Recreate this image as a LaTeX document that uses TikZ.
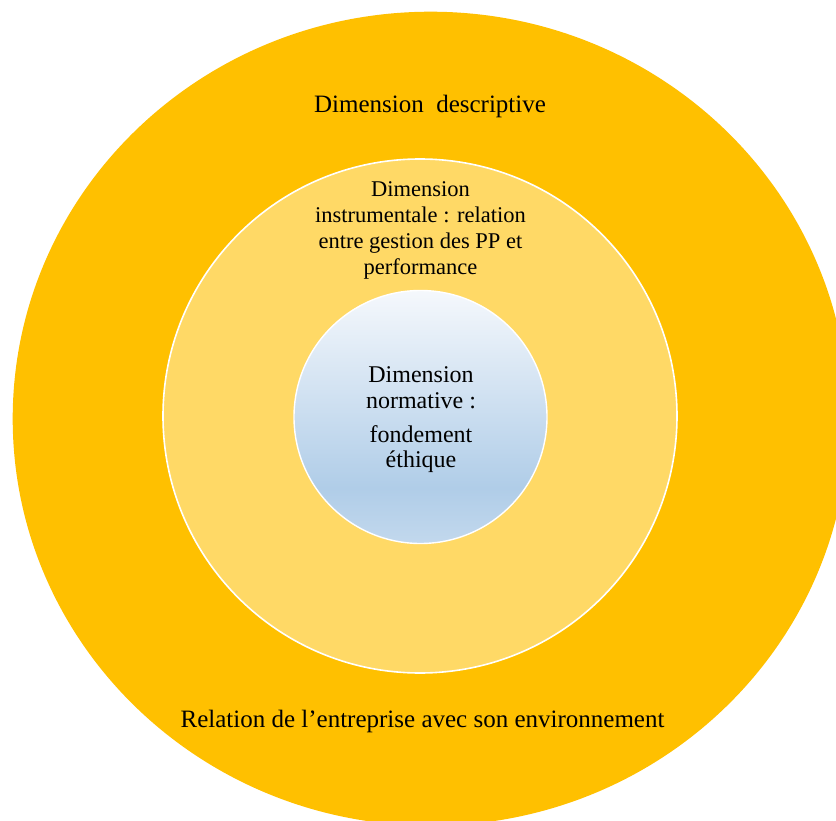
\documentclass[tikz,border=0pt]{standalone}
\usepackage{fontspec}
\setmainfont{Liberation Serif}
\definecolor{outergold}{HTML}{FFC000}
\definecolor{middlegold}{HTML}{FFD966}
\definecolor{innertop}{HTML}{F5F8FC}
\definecolor{innerdeep}{HTML}{B0CDE8}
\definecolor{innerbottom}{HTML}{C2D8ED}
\pgfdeclareverticalshading{innershade}{100bp}{%
  color(0bp)=(innerbottom); color(25bp)=(innerbottom);
  color(36bp)=(innerdeep); color(75bp)=(innertop); color(100bp)=(innertop)}
\tikzset{
  ringouter/.style={fill=outergold, draw=none},
  ringmiddle/.style={fill=middlegold, draw=white, line width=1.6pt},
  ringinner/.style={shading=innershade, draw=white, line width=1.4pt},
  bigtxt/.style={anchor=base, inner sep=0pt, font=\fontsize{25}{29}\selectfont},
  midtxt/.style={anchor=base, inner sep=0pt, font=\fontsize{22.5}{26}\selectfont},
  inntxt/.style={anchor=base, inner sep=0pt, font=\fontsize{24}{27}\selectfont},
}
\begin{document}
\begin{tikzpicture}[x=1pt, y=-1pt]
\useasboundingbox (0,0) rectangle (836,821);
\fill[white] (0,0) rectangle (836,821);
\clip (0,0) rectangle (836,821);
% rings
\path[ringouter] (430.7,418.7) ellipse [x radius=418, y radius=407];
\path[ringmiddle] (420,416) circle [radius=257];
\path[ringinner] (420.5,417) circle [radius=126.5];
% outer ring texts
\node[bigtxt] (desc) at (430,112.5) {Dimension~ descriptive};
\node[bigtxt] (envt) at (422.5,727.5) {Relation de l’entreprise avec son environnement};
% middle ring texts
\node[midtxt] (m1) at (420.5,197) {Dimension};
\node[midtxt] (m2) at (420.5,223) {instrumentale : relation};
\node[midtxt] (m3) at (420.5,249) {entre gestion des PP et};
\node[midtxt] (m4) at (420.5,275) {performance};
% inner circle texts
\node[inntxt] (i1) at (421,382) {Dimension};
\node[inntxt] (i2) at (421,408) {normative :};
\node[inntxt] (i3) at (421,442) {fondement};
\node[inntxt] (i4) at (421,467) {éthique};
\end{tikzpicture}
\end{document}
